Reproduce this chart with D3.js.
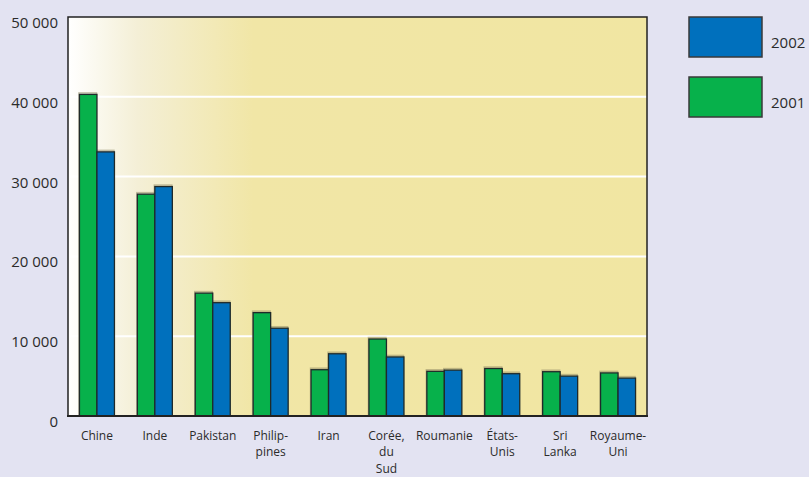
<!DOCTYPE html>
<html>
<head>
<meta charset="utf-8">
<script src="https://cdn.jsdelivr.net/npm/d3@7"></script>
<style>
  html, body { margin: 0; padding: 0; background: #e3e3f2; }
  svg { display: block; }
  text { font-family: "Open Sans", "DejaVu Sans", sans-serif; fill: #2b2b2b; }
</style>
</head>
<body>
<svg id="chart" width="809" height="477"></svg>
<script>
// Countries, with multi-line labels as drawn under the axis
const categories = ["Chine", "Inde", "Pakistan", "Philippines", "Iran", "Corée, du Sud",
                    "Roumanie", "États-Unis", "Sri Lanka", "Royaume-Uni"];
const categoryLabels = [["Chine"], ["Inde"], ["Pakistan"], ["Philip-", "pines"], ["Iran"],
                        ["Corée,", "du", "Sud"], ["Roumanie"], ["États-", "Unis"],
                        ["Sri", "Lanka"], ["Royaume-", "Uni"]];
const series = ["2001", "2002"];
const values2001 = [40300, 27800, 15400, 12950, 5800, 9650, 5600, 5950, 5550, 5400];
const values2002 = [33100, 28750, 14200, 11000, 7800, 7400, 5750, 5300, 5000, 4750];
const yTicks = [0, 10000, 20000, 30000, 40000, 50000];
const yTickLabels = ["0", "10 000", "20 000", "30 000", "40 000", "50 000"];
const legendOrder = ["2002", "2001"];

const colors = { "2001": "#07b14b", "2002": "#0070bd" };

const svg = d3.select("#chart");
const plot = { left: 68, right: 647, top: 17, bottom: 416 };

const x0 = d3.scaleBand().domain(categories).range([plot.left, plot.right]).padding(0);
const groupW = 35;
const x1 = d3.scaleBand().domain(series).range([0, groupW]).padding(0);
const y = d3.scaleLinear().domain([0, 50000]).range([plot.bottom, plot.top]);

// Plot background: white fading into pale yellow
const defs = svg.append("defs");
const grad = defs.append("linearGradient").attr("id", "bg").attr("x1", "0").attr("x2", "1").attr("y1", "0").attr("y2", "0");
grad.append("stop").attr("offset", "0").attr("stop-color", "#ffffff");
grad.append("stop").attr("offset", "0.12").attr("stop-color", "#f4efd6");
grad.append("stop").attr("offset", "0.32").attr("stop-color", "#f1e6a6");
grad.append("stop").attr("offset", "1").attr("stop-color", "#f1e6a2");

svg.append("rect")
  .attr("x", plot.left).attr("y", plot.top)
  .attr("width", plot.right - plot.left).attr("height", plot.bottom - plot.top)
  .attr("fill", "url(#bg)");

// Horizontal gridlines
svg.append("g").selectAll("line")
  .data(yTicks.filter(t => t > 0 && t < 50000))
  .join("line")
  .attr("x1", plot.left).attr("x2", plot.right)
  .attr("y1", d => y(d)).attr("y2", d => y(d))
  .attr("stroke", "#ffffff").attr("stroke-width", 2);

// Bars
const rows = categories.map((c, i) => ({ c, "2001": values2001[i], "2002": values2002[i] }));
const off = (x0.bandwidth() - groupW) / 2;
const groups = svg.append("g").selectAll("g")
  .data(rows).join("g")
  .attr("transform", d => `translate(${x0(d.c) + off},0)`);

// soft shade around each bar
groups.selectAll("rect.shade")
  .data(d => series.map(s => ({ s, v: d[s] })))
  .join("rect").attr("class", "shade")
  .attr("x", d => x1(d.s) - 0.5).attr("y", d => y(d.v) - 1.5)
  .attr("width", x1.bandwidth()).attr("height", d => y(0) - y(d.v) + 1.5)
  .attr("fill", "none").attr("stroke", "#8a8460").attr("stroke-opacity", 0.5).attr("stroke-width", 1.5);

groups.selectAll("rect.bar")
  .data(d => series.map(s => ({ s, v: d[s] })))
  .join("rect").attr("class", "bar")
  .attr("x", d => x1(d.s)).attr("y", d => y(d.v))
  .attr("width", x1.bandwidth()).attr("height", d => y(0) - y(d.v))
  .attr("fill", d => colors[d.s])
  .attr("stroke", "#1f2a2a").attr("stroke-width", 1.3);

// Frame
svg.append("rect")
  .attr("x", plot.left).attr("y", plot.top)
  .attr("width", plot.right - plot.left).attr("height", plot.bottom - plot.top)
  .attr("fill", "none").attr("stroke", "#222").attr("stroke-width", 1.5);
svg.append("line")
  .attr("x1", plot.left - 1).attr("x2", plot.right + 1)
  .attr("y1", plot.bottom).attr("y2", plot.bottom)
  .attr("stroke", "#222").attr("stroke-width", 2.2);

// Y axis labels
svg.append("g").selectAll("text")
  .data(yTicks).join("text")
  .attr("x", 58).attr("y", d => y(d) + 11)
  .attr("text-anchor", "end").attr("font-size", 15)
  .text((d, i) => yTickLabels[i]);

// X axis labels, one text element per line
const xLines = categories.flatMap((c, i) =>
  categoryLabels[i].map((t, j) => ({ c, t, j })));
svg.append("g").selectAll("text")
  .data(xLines).join("text")
  .attr("text-anchor", "middle").attr("font-size", 12)
  .attr("x", d => x0(d.c) + x0.bandwidth() / 2)
  .attr("y", d => 440 + d.j * 16.4)
  .text(d => d.t);

// Legend
const lg = svg.append("g").selectAll("g")
  .data(legendOrder).join("g")
  .attr("transform", (d, i) => `translate(689,${17 + i * 60})`);
lg.append("rect")
  .attr("width", 73).attr("height", 40)
  .attr("fill", d => colors[d])
  .attr("stroke", "#3a3a3a").attr("stroke-width", 1.5);
lg.append("text")
  .attr("x", 82).attr("y", 31)
  .attr("font-size", 15)
  .text(d => d);
</script>
</body>
</html>
